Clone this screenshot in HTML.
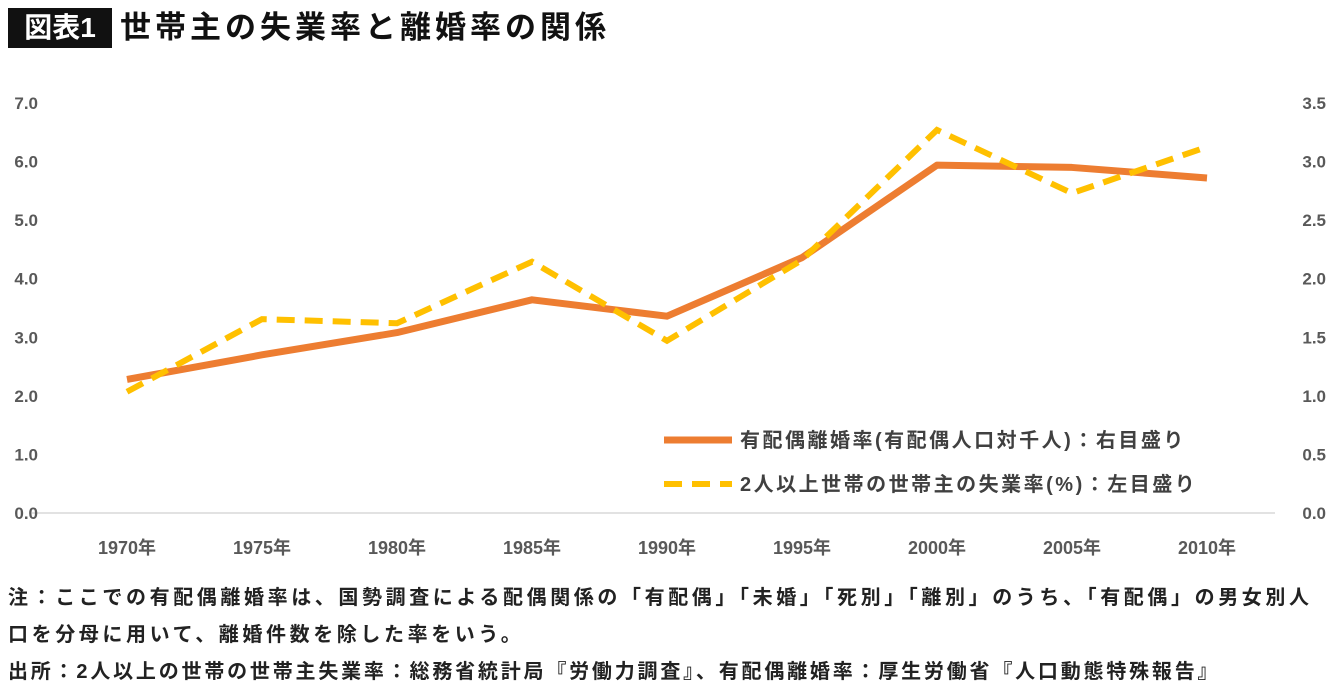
<!DOCTYPE html>
<html><head><meta charset="utf-8"><style>
body{margin:0;width:1340px;height:697px;background:#fff;font-family:"Liberation Sans","Noto Sans CJK JP",sans-serif;overflow:hidden;position:relative}
.t{position:absolute;white-space:nowrap}
</style></head><body>
<div class="t" style="left:8px;top:8px;height:40px;width:104px;background:#111;color:#fff;font-size:28px;font-weight:bold;line-height:40px;text-align:center">図表1</div>
<div class="t" style="left:120px;top:6px;font-size:31px;font-weight:bold;color:#111;line-height:44px;letter-spacing:4px">世帯主の失業率と離婚率の関係</div>
<svg id="c" width="1340" height="600" style="position:absolute;left:0;top:0"></svg>
<div class="t" style="left:8px;top:580px;font-size:20px;font-weight:bold;color:#222;line-height:37px;letter-spacing:3.6px">注：ここでの有配偶離婚率は、国勢調査による配偶関係の「有配偶」「未婚」「死別」「離別」のうち、「有配偶」の男女別人<br>口を分母に用いて、離婚件数を除した率をいう。</div>
<div class="t" style="left:8px;top:655px;font-size:20px;font-weight:bold;color:#222;line-height:34px;letter-spacing:2.8px">出所：2人以上の世帯の世帯主失業率：総務省統計局『労働力調査』、有配偶離婚率：厚生労働省『人口動態特殊報告』</div>
<script>
const years=["1970年","1975年","1980年","1985年","1990年","1995年","2000年","2005年","2010年"];
const divorce=[1.14,1.35,1.54,1.82,1.68,2.18,2.97,2.95,2.86];
const unemp=[2.07,3.31,3.24,4.29,2.94,4.32,6.54,5.46,6.25];
const leftTicks=["0.0","1.0","2.0","3.0","4.0","5.0","6.0","7.0"];
const rightTicks=["0.0","0.5","1.0","1.5","2.0","2.5","3.0","3.5"];
const svg=document.getElementById('c');const NS="http://www.w3.org/2000/svg";
const x=i=>127+i*135;const yL=v=>513-v*(410/7);const yR=v=>513-v*(410/3.5);
function mk(t,a,txt){const e=document.createElementNS(NS,t);for(const k in a)e.setAttribute(k,a[k]);if(txt!=null)e.textContent=txt;svg.appendChild(e);return e;}
let e=mk('line',{x1:32,x2:1275,y1:513,y2:513,stroke:'#d9d9d9','stroke-width':1.5});

leftTicks.forEach((t,i)=>{const el=mk('text',{x:38,y:yL(+t)+6,'text-anchor':'end','font-size':17,'font-weight':'bold',fill:'#595959'},t);
});
rightTicks.forEach((t,i)=>{const el=mk('text',{x:1326,y:yR(+t)+6,'text-anchor':'end','font-size':17,'font-weight':'bold',fill:'#595959'},t);
});
years.forEach((t,i)=>{const el=mk('text',{x:x(i),y:554,'text-anchor':'middle','font-size':18,'font-weight':'bold',fill:'#595959'},t);
});
const p1=mk('polyline',{points:divorce.map((v,i)=>x(i)+','+yR(v)).join(' '),fill:'none',stroke:'#ed7d31','stroke-width':7,'stroke-linejoin':'round'});

const p2=mk('polyline',{points:unemp.map((v,i)=>x(i)+','+yL(v)).join(' '),fill:'none',stroke:'#ffc000','stroke-width':6,'stroke-dasharray':'18 10'});

let l=mk('line',{x1:664,x2:732,y1:440,y2:440,stroke:'#ed7d31','stroke-width':7});

l=mk('text',{x:740,y:447,'font-size':20,'font-weight':'bold',fill:'#404040','letter-spacing':2.5},'有配偶離婚率(有配偶人口対千人)：右目盛り');

l=mk('line',{x1:664,x2:732,y1:484,y2:484,stroke:'#ffc000','stroke-width':6,'stroke-dasharray':'18 10'});

l=mk('text',{x:740,y:491,'font-size':20,'font-weight':'bold',fill:'#404040','letter-spacing':2.5},'2人以上世帯の世帯主の失業率(%)：左目盛り');

</script>
</body></html>
